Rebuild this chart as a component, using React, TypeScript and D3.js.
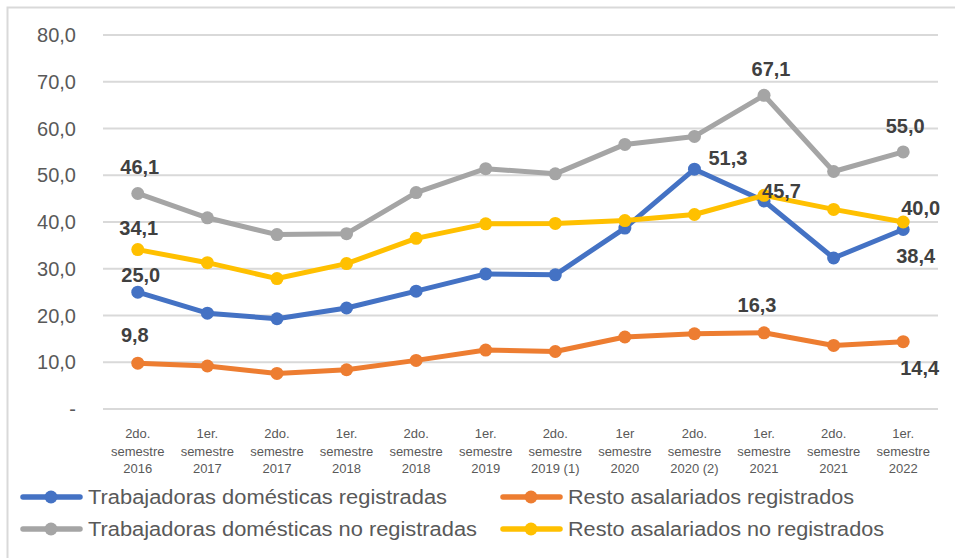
import React from "react";
import * as d3 from "d3";

const categories: string[][] = [
  ["2do.", "semestre", "2016"],
  ["1er.", "semestre", "2017"],
  ["2do.", "semestre", "2017"],
  ["1er.", "semestre", "2018"],
  ["2do.", "semestre", "2018"],
  ["1er.", "semestre", "2019"],
  ["2do.", "semestre", "2019 (1)"],
  ["1er", "semestre", "2020"],
  ["2do.", "semestre", "2020 (2)"],
  ["1er.", "semestre", "2021"],
  ["2do.", "semestre", "2021"],
  ["1er.", "semestre", "2022"],
];

const domRegistradas = [25.0, 20.5, 19.3, 21.6, 25.2, 28.9, 28.7, 38.7, 51.3, 44.5, 32.3, 38.4];
const restoRegistrados = [9.8, 9.2, 7.6, 8.4, 10.4, 12.6, 12.3, 15.4, 16.1, 16.3, 13.6, 14.4];
const domNoRegistradas = [46.1, 40.9, 37.3, 37.5, 46.3, 51.4, 50.3, 56.6, 58.3, 67.1, 50.8, 55.0];
const restoNoRegistrados = [34.1, 31.3, 27.9, 31.1, 36.5, 39.6, 39.7, 40.3, 41.6, 45.7, 42.7, 40.0];

const yTicks = [0, 10, 20, 30, 40, 50, 60, 70, 80];

type Label = { i: number; dx: number; dy: number; anchor: string };
type Series = { name: string; color: string; values: number[]; labels: Label[] };

const series: Series[] = [
  {
    name: "Trabajadoras domésticas registradas",
    color: "#4472C4",
    values: domRegistradas,
    labels: [
      { i: 0, dx: 3, dy: -10, anchor: "middle" },
      { i: 8, dx: 14, dy: -4, anchor: "start" },
      { i: 11, dx: -7, dy: 34, anchor: "start" },
    ],
  },
  {
    name: "Resto asalariados registrados",
    color: "#ED7D31",
    values: restoRegistrados,
    labels: [
      { i: 0, dx: -3, dy: -21, anchor: "middle" },
      { i: 9, dx: -7, dy: -21, anchor: "middle" },
      { i: 11, dx: -3, dy: 33, anchor: "start" },
    ],
  },
  {
    name: "Trabajadoras domésticas no registradas",
    color: "#A5A5A5",
    values: domNoRegistradas,
    labels: [
      { i: 0, dx: 2, dy: -19, anchor: "middle" },
      { i: 9, dx: 7, dy: -19, anchor: "middle" },
      { i: 11, dx: 2, dy: -19, anchor: "middle" },
    ],
  },
  {
    name: "Resto asalariados no registrados",
    color: "#FFC000",
    values: restoNoRegistrados,
    labels: [
      { i: 0, dx: 1, dy: -15, anchor: "middle" },
      { i: 9, dx: -2, dy: 3, anchor: "start" },
      { i: 11, dx: -2, dy: -7, anchor: "start" },
    ],
  },
];

const W = 955;
const H = 558;
const FONT = "'Liberation Sans', Arial, sans-serif";

export default function App() {
  const x = d3
    .scaleBand<number>()
    .domain(d3.range(categories.length))
    .range([103, 938]);
  const y = d3.scaleLinear().domain([0, 80]).range([409, 35]);
  const cx = (i: number) => (x(i) as number) + x.bandwidth() / 2;
  const line = d3
    .line<number>()
    .x((_, i) => cx(i))
    .y((v) => y(v));
  const fmt = (v: number) => v.toFixed(1).replace(".", ",");

  const legendItems = [
    { s: series[0], lx: 23, ly: 497, tl: 359 },
    { s: series[1], lx: 503, ly: 497, tl: 286 },
    { s: series[2], lx: 23, ly: 529, tl: 389 },
    { s: series[3], lx: 503, ly: 529, tl: 316 },
  ];

  return (
    <svg
      width={W}
      height={H}
      style={{ position: "absolute", left: 0, top: 0, background: "#fff" }}
      fontFamily={FONT}
    >
      <rect x={0} y={0} width={W} height={H} fill="#fff" />
      <rect x={7.5} y={7.5} width={980} height={580} fill="none" stroke="#D9D9D9" strokeWidth={2} />
      {yTicks.map((t) => (
        <g key={t}>
          <line x1={103} x2={938} y1={y(t)} y2={y(t)} stroke="#D9D9D9" strokeWidth={2} />
          <text x={76} y={y(t) + 7} textAnchor="end" fontSize={20} fill="#595959">
            {t === 0 ? "-" : fmt(t)}
          </text>
        </g>
      ))}
      {categories.map((c, i) => (
        <text key={i} textAnchor="middle" fontSize={13} fill="#595959">
          {c.map((ln, k) => (
            <tspan key={k} x={cx(i)} y={438 + k * 17.5}>
              {ln}
            </tspan>
          ))}
        </text>
      ))}
      {series.map((s) => (
        <g key={s.name}>
          <path d={line(s.values) || ""} fill="none" stroke={s.color} strokeWidth={5} strokeLinejoin="round" />
          {s.values.map((v, i) => (
            <circle key={i} cx={cx(i)} cy={y(v)} r={6.5} fill={s.color} />
          ))}
        </g>
      ))}
      {series.map((s) =>
        s.labels.map((l) => (
          <text
            key={s.name + l.i}
            x={cx(l.i) + l.dx}
            y={y(s.values[l.i]) + l.dy}
            textAnchor={l.anchor as any}
            fontSize={20}
            fontWeight="bold"
            fill="#404040"
          >
            {fmt(s.values[l.i])}
          </text>
        ))
      )}
      {legendItems.map(({ s, lx, ly, tl }) => (
        <g key={s.name}>
          <line x1={lx} x2={lx + 57} y1={ly} y2={ly} stroke={s.color} strokeWidth={5.5} strokeLinecap="round" />
          <circle cx={lx + 28} cy={ly} r={6.5} fill={s.color} />
          <text
            x={lx + 65}
            y={ly + 7}
            fontSize={20}
            fill="#595959"
            textLength={tl}
            lengthAdjust="spacingAndGlyphs"
          >
            {s.name}
          </text>
        </g>
      ))}
    </svg>
  );
}
